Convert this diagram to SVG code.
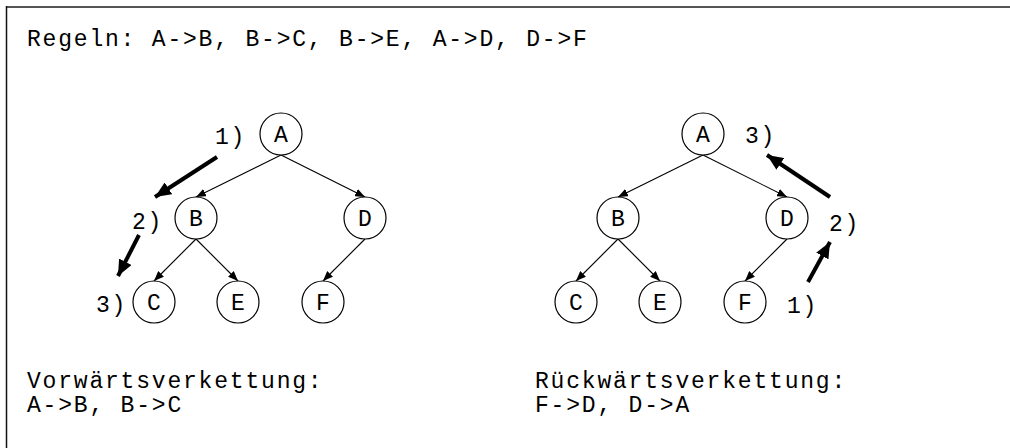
<svg xmlns="http://www.w3.org/2000/svg" width="1010" height="448" viewBox="0 0 1010 448">
  <style>
    .t { font-family: "Courier New", "Liberation Mono", monospace; font-size: 23px; letter-spacing: 1.8px; fill: #000; }
    .node circle { fill: #fff; stroke: #000; stroke-width: 1.2; }
    .node text { font-family: "Courier New", "Liberation Mono", monospace; font-size: 23px; text-anchor: middle; fill: #000; }
    .edge { stroke: #000; stroke-width: 1.1; fill: none; marker-end: url(#thin); }
    .step { stroke: #000; stroke-width: 4; fill: none; marker-end: url(#bold); }
  </style>
  <defs>
    <marker id="thin" viewBox="0 0 10 8" refX="10" refY="4" markerWidth="10" markerHeight="8" markerUnits="userSpaceOnUse" orient="auto">
      <path d="M0,0 L10,4 L0,8 Z" fill="#000"/>
    </marker>
    <marker id="bold" viewBox="0 0 16 14" refX="16" refY="7" markerWidth="16" markerHeight="14" markerUnits="userSpaceOnUse" orient="auto">
      <path d="M0,0 L16,7 L0,14 Z" fill="#000"/>
    </marker>
  </defs>

  <rect width="1010" height="448" fill="#fff"/>
  <!-- frame -->
  <line x1="6" y1="7" x2="1010" y2="7" stroke="#555" stroke-width="2"/>
  <line x1="6.5" y1="6" x2="6.5" y2="448" stroke="#111" stroke-width="1.5"/>

  <text class="t" x="27" y="46">Regeln: A-&gt;B, B-&gt;C, B-&gt;E, A-&gt;D, D-&gt;F</text>

  <!-- connectors -->
  <g id="connectors">
    <line class="edge" x1="281" y1="155" x2="196" y2="197"/>
    <line class="edge" x1="281" y1="155" x2="365" y2="197"/>
    <line class="edge" x1="196" y1="239" x2="154" y2="281"/>
    <line class="edge" x1="196" y1="239" x2="238" y2="281"/>
    <line class="edge" x1="365" y1="239" x2="323" y2="281"/>
    <line class="edge" x1="703" y1="155" x2="618" y2="197"/>
    <line class="edge" x1="703" y1="155" x2="787" y2="197"/>
    <line class="edge" x1="618" y1="239" x2="576" y2="281"/>
    <line class="edge" x1="618" y1="239" x2="660" y2="281"/>
    <line class="edge" x1="787" y1="239" x2="745" y2="281"/>
    <!-- chaining order -->
    <line class="step" x1="217" y1="157" x2="155" y2="197"/>
    <line class="step" x1="139" y1="235" x2="118" y2="276"/>
    <line class="step" x1="830" y1="197" x2="767" y2="155"/>
    <line class="step" x1="808" y1="282" x2="830" y2="242"/>
  </g>

  <!-- forward chaining tree -->
  <g id="fA" class="node"><circle cx="281" cy="134" r="21"/><text x="281" y="142">A</text></g>
  <g id="fB" class="node"><circle cx="196" cy="218" r="21"/><text x="196" y="226">B</text></g>
  <g id="fD" class="node"><circle cx="365" cy="218" r="21"/><text x="365" y="226">D</text></g>
  <g id="fC" class="node"><circle cx="154" cy="302" r="21"/><text x="154" y="310">C</text></g>
  <g id="fE" class="node"><circle cx="238" cy="302" r="21"/><text x="238" y="310">E</text></g>
  <g id="fF" class="node"><circle cx="323" cy="302" r="21"/><text x="323" y="310">F</text></g>

  <!-- backward chaining tree -->
  <g id="bA" class="node"><circle cx="703" cy="134" r="21"/><text x="703" y="142">A</text></g>
  <g id="bB" class="node"><circle cx="618" cy="218" r="21"/><text x="618" y="226">B</text></g>
  <g id="bD" class="node"><circle cx="787" cy="218" r="21"/><text x="787" y="226">D</text></g>
  <g id="bC" class="node"><circle cx="576" cy="302" r="21"/><text x="576" y="310">C</text></g>
  <g id="bE" class="node"><circle cx="660" cy="302" r="21"/><text x="660" y="310">E</text></g>
  <g id="bF" class="node"><circle cx="745" cy="302" r="21"/><text x="745" y="310">F</text></g>

  <!-- step labels -->
  <text class="t" x="215" y="144">1)</text>
  <text class="t" x="132" y="229">2)</text>
  <text class="t" x="96" y="312">3)</text>
  <text class="t" x="745" y="143">3)</text>
  <text class="t" x="829" y="231">2)</text>
  <text class="t" x="787" y="313">1)</text>

  <text class="t" x="27" y="388">Vorwärtsverkettung:</text>
  <text class="t" x="27" y="412">A-&gt;B, B-&gt;C</text>
  <text class="t" x="535" y="388">Rückwärtsverkettung:</text>
  <text class="t" x="535" y="412">F-&gt;D, D-&gt;A</text>
</svg>
